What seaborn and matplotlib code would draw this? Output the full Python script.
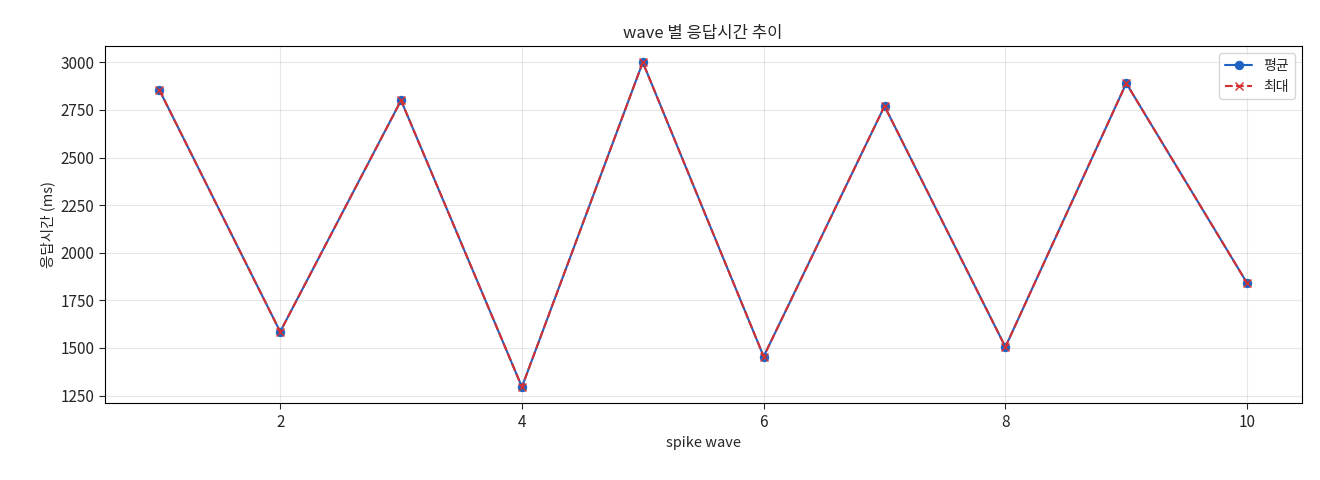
import matplotlib
matplotlib.use("Agg")
import matplotlib.pyplot as plt
import seaborn as sns
import pandas as pd

waves = [1, 2, 3, 4, 5, 6, 7, 8, 9, 10]
avg_ms = [2855, 1585, 2800, 1295, 3000, 1455, 2770, 1505, 2890, 1840]
max_ms = [2855, 1585, 2800, 1295, 3000, 1455, 2770, 1505, 2890, 1840]

sns.set_style("white")
plt.rcParams['font.family'] = ['Noto Sans CJK KR', 'DejaVu Sans']

df = pd.DataFrame({"wave": waves, "avg": avg_ms, "max": max_ms})
fig, ax = plt.subplots(figsize=(13.2, 4.8), dpi=100)
fig.subplots_adjust(left=0.0795, right=0.986, top=0.904, bottom=0.16)

sns.lineplot(data=df, x="wave", y="avg", ax=ax, color="#1f62c2", marker="o",
             markersize=6, markeredgecolor="#1f62c2", label="평균", linewidth=1.5)
ax.plot(df["wave"], df["max"], color="#d62f2f", marker="x", markersize=6,
        linestyle="--", label="최대", linewidth=1.5)

ax.set_title("wave 별 응답시간 추이", fontsize=12)
ax.set_xlabel("spike wave", fontsize=10.5)
ax.set_ylabel("응답시간 (ms)", fontsize=10.5)
ax.set_yticks([1250, 1500, 1750, 2000, 2250, 2500, 2750, 3000])
ax.set_xticks([2, 4, 6, 8, 10])
ax.tick_params(labelsize=11, length=4, left=True, bottom=True)
ax.grid(True, alpha=0.3, color="#b0b0b0")
for s in ax.spines.values():
    s.set_color("black")
    s.set_linewidth(0.8)
ax.legend(loc="upper right", fontsize=10)
fig.savefig("out.png", dpi=100)
